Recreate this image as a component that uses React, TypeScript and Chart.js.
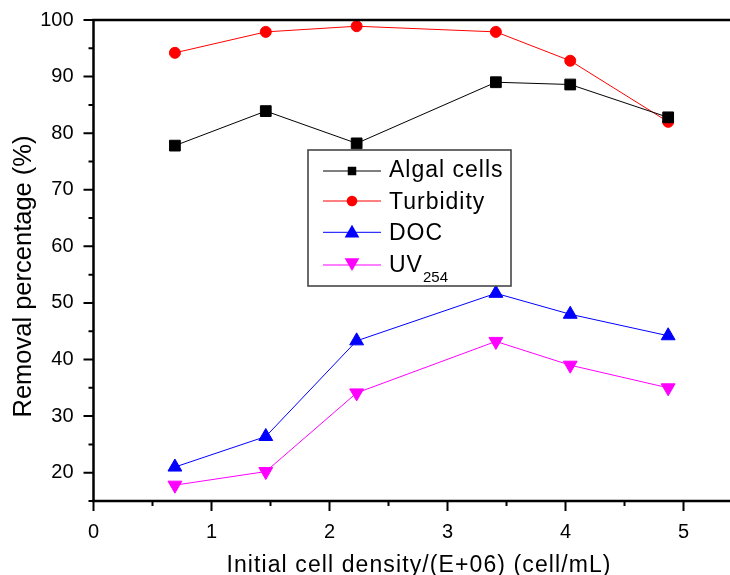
import React, { useEffect, useRef } from 'react';
import { Chart, registerables } from 'chart.js';

Chart.register(...registerables);

// ---- data ----
const cellDensity = [0.69, 1.46, 2.23, 3.41, 4.04, 4.87];
const algalCells = [77.8, 83.9, 78.2, 89.0, 88.6, 82.8];
const turbidity = [94.2, 97.9, 98.9, 97.9, 92.8, 82.0];
const docRemoval = [21.0, 26.4, 43.3, 51.7, 48.0, 44.2];
const uv254 = [17.8, 20.2, 34.1, 43.2, 39.0, 35.0];

const seriesLabels = ['Algal cells', 'Turbidity', 'DOC', 'UV'];
const seriesColors = ['#000000', '#ff0000', '#0000ff', '#ff00ff'];
const xMajorTicks = [0, 1, 2, 3, 4, 5];
const xMinorTicks = [0.5, 1.5, 2.5, 3.5, 4.5];
const yMajorTicks = [20, 30, 40, 50, 60, 70, 80, 90, 100];
const yMinorTicks = [15, 25, 35, 45, 55, 65, 75, 85, 95];
const xTitle = 'Initial cell density/(E+06) (cell/mL)';
const yTitle = 'Removal percentage (%)';

const FONT = '"Liberation Sans", Arial, sans-serif';

function drawMarker(ctx: CanvasRenderingContext2D, kind: string, x: number, y: number, s: number, color: string) {
  ctx.save();
  ctx.fillStyle = color;
  ctx.beginPath();
  if (kind === 'rect') {
    ctx.rect(x - s / 2, y - s / 2, s, s);
  } else if (kind === 'circle') {
    ctx.arc(x, y, s, 0, Math.PI * 2);
  } else if (kind === 'up') {
    const h = s * Math.sin(Math.PI / 3);
    ctx.moveTo(x, y - s);
    ctx.lineTo(x + h, y + s / 2);
    ctx.lineTo(x - h, y + s / 2);
    ctx.closePath();
  } else {
    const h = s * Math.sin(Math.PI / 3);
    ctx.moveTo(x, y + s);
    ctx.lineTo(x + h, y - s / 2);
    ctx.lineTo(x - h, y - s / 2);
    ctx.closePath();
  }
  ctx.fill();
  ctx.restore();
}

const decorPlugin = {
  id: 'decor',
  afterDatasetsDraw(chart: any) {
    const ctx: CanvasRenderingContext2D = chart.ctx;
    // legend box
    ctx.save();
    ctx.fillStyle = '#ffffff';
    ctx.fillRect(308, 150, 203, 136);
    ctx.strokeStyle = '#3a3a3a';
    ctx.lineWidth = 1.5;
    ctx.strokeRect(308, 150, 203, 136);
    const lineYs = [171, 201, 232.3, 265];
    const textBase = [177, 208.5, 240, 271.7];
    const kinds = ['rect', 'circle', 'up', 'down'];
    const sizes = [8.5, 5.3, 8.5, 8.5];
    const markerYs = [171, 201, 233.3, 262.5];
    for (let i = 0; i < 4; i++) {
      ctx.strokeStyle = seriesColors[i];
      ctx.lineWidth = 1;
      ctx.beginPath();
      ctx.moveTo(323, lineYs[i]);
      ctx.lineTo(381, lineYs[i]);
      ctx.stroke();
      drawMarker(ctx, kinds[i], 352, markerYs[i], sizes[i], seriesColors[i]);
      ctx.fillStyle = '#000';
      ctx.font = `23px ${FONT}`;
      (ctx as any).letterSpacing = '1px';
      ctx.textAlign = 'left';
      ctx.textBaseline = 'alphabetic';
      ctx.fillText(seriesLabels[i], 389, textBase[i]);
    }
    // subscript 254
    (ctx as any).letterSpacing = '0px';
    ctx.font = `15px ${FONT}`;
    ctx.fillText('254', 423, 281.7);
    ctx.restore();
  },
  afterDraw(chart: any) {
    const ctx: CanvasRenderingContext2D = chart.ctx;
    const { left, right, top, bottom } = chart.chartArea;
    const xs = chart.scales.x;
    const ys = chart.scales.y;
    ctx.save();
    ctx.strokeStyle = '#000';
    ctx.lineWidth = 2.5;
    ctx.beginPath();
    ctx.moveTo(left, top);
    ctx.lineTo(right + 5, top);
    ctx.moveTo(left, top - 1.25);
    ctx.lineTo(left, bottom + 1.25);
    ctx.moveTo(left - 1.25, bottom);
    ctx.lineTo(right + 5, bottom);
    ctx.stroke();
    ctx.lineWidth = 2;
    ctx.beginPath();
    xMajorTicks.forEach((v) => {
      const px = xs.getPixelForValue(v);
      ctx.moveTo(px, bottom);
      ctx.lineTo(px, bottom + 10);
    });
    xMinorTicks.forEach((v) => {
      const px = xs.getPixelForValue(v);
      ctx.moveTo(px, bottom);
      ctx.lineTo(px, bottom + 5);
    });
    yMajorTicks.forEach((v) => {
      const py = ys.getPixelForValue(v);
      ctx.moveTo(left, py);
      ctx.lineTo(left - 10, py);
    });
    yMinorTicks.forEach((v) => {
      const py = ys.getPixelForValue(v);
      ctx.moveTo(left, py);
      ctx.lineTo(left - 5, py);
    });
    ctx.stroke();

    // axis titles
    ctx.fillStyle = '#000';
    ctx.textBaseline = 'alphabetic';
    ctx.textAlign = 'center';
    ctx.font = `23px ${FONT}`;
    (ctx as any).letterSpacing = '1.1px';
    ctx.fillText(xTitle, 419, 572);
    (ctx as any).letterSpacing = '0px';
    ctx.translate(30.5, 276.5);
    ctx.rotate(-Math.PI / 2);
    ctx.font = `25.5px ${FONT}`;
    ctx.fillText(yTitle, 0, 0);
    ctx.restore();
  },
};

export default function App() {
  const ref = useRef<HTMLCanvasElement | null>(null);
  useEffect(() => {
    if (!ref.current) return;
    const mk = (arr: number[]) => arr.map((y, i) => ({ x: cellDensity[i], y }));
    const chart = new Chart(ref.current, {
      type: 'line',
      data: {
        datasets: [
          {
            label: seriesLabels[0],
            data: mk(algalCells),
            borderColor: seriesColors[0],
            backgroundColor: seriesColors[0],
            borderWidth: 1,
            pointStyle: 'rect',
            pointRadius: 7.6,
            pointBorderWidth: 1,
          },
          {
            label: seriesLabels[1],
            data: mk(turbidity),
            borderColor: seriesColors[1],
            backgroundColor: seriesColors[1],
            borderWidth: 1,
            pointStyle: 'circle',
            pointRadius: 5.5,
            pointBorderWidth: 1,
          },
          {
            label: seriesLabels[2],
            data: mk(docRemoval),
            borderColor: seriesColors[2],
            backgroundColor: seriesColors[2],
            borderWidth: 1,
            pointStyle: 'triangle',
            pointRadius: 8,
            pointBorderWidth: 1,
          },
          {
            label: 'UV254',
            data: mk(uv254),
            borderColor: seriesColors[3],
            backgroundColor: seriesColors[3],
            borderWidth: 1,
            pointStyle: 'triangle',
            pointRotation: 180,
            pointRadius: 8,
            pointBorderWidth: 1,
          },
        ],
      },
      options: {
        animation: false,
        responsive: false,
        layout: { autoPadding: false, padding: { top: 20, left: 0, right: 0, bottom: 0 } },
        elements: { line: { tension: 0, fill: false } },
        plugins: { legend: { display: false }, tooltip: { enabled: false } },
        scales: {
          x: {
            type: 'linear',
            min: 0,
            max: 5.394,
            afterBuildTicks: (s: any) => {
              s.ticks = xMajorTicks.map((v) => ({ value: v }));
            },
            afterFit: (s: any) => {
              s.height = 74;
              s.paddingLeft = 0;
              s.paddingRight = 0;
              s.paddingTop = 0;
              s.paddingBottom = 0;
            },
            grid: { display: false },
            border: { display: false },
            ticks: {
              color: '#000',
              font: { family: FONT, size: 20 },
              padding: 11,
              maxRotation: 0,
              autoSkip: false,
            },
          },
          y: {
            type: 'linear',
            min: 15,
            max: 100,
            afterBuildTicks: (s: any) => {
              s.ticks = yMajorTicks.map((v) => ({ value: v }));
            },
            afterFit: (s: any) => {
              s.width = 93.5;
              s.paddingLeft = 0;
              s.paddingRight = 0;
              s.paddingTop = 0;
              s.paddingBottom = 0;
            },
            grid: { display: false },
            border: { display: false },
            ticks: {
              color: '#000',
              font: { family: FONT, size: 20 },
              padding: 12,
              autoSkip: false,
            },
          },
        },
      },
      plugins: [decorPlugin],
    });
    return () => chart.destroy();
  }, []);
  return (
    <div style={{ position: 'absolute', left: 0, top: 0, width: 730, height: 575, overflow: 'hidden', background: '#fff' }}>
      <canvas ref={ref} width={730} height={575} style={{ display: 'block' }} />
    </div>
  );
}
